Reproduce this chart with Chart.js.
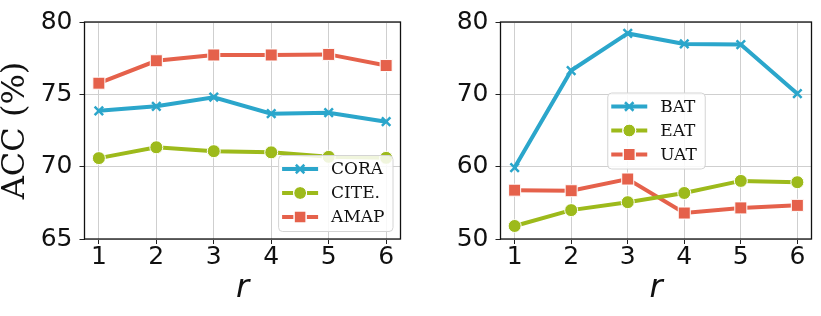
<!DOCTYPE html>
<html>
<head>
<meta charset="utf-8">
<script src="https://cdn.jsdelivr.net/npm/chart.js@4.4.1/dist/chart.umd.min.js"></script>
<style>
  html, body { margin: 0; padding: 0; background: #fff; }
  #wrap { position: relative; width: 821px; height: 316px; }
  .panel { position: absolute; top: 0; height: 316px; }
</style>
</head>
<body>
<div id="wrap">
  <div class="panel" style="left:0;width:410px"><canvas id="left"></canvas></div>
  <div class="panel" style="left:410px;width:411px"><canvas id="right"></canvas></div>
</div>
<script>
// r values on the x axis
const rValues = [1, 2, 3, 4, 5, 6];

// left panel
const cora = [73.86, 74.17, 74.8, 73.66, 73.73, 73.11];
const cite = [70.59, 71.34, 71.07, 70.99, 70.68, 70.61];
const amap = [75.77, 77.32, 77.72, 77.72, 77.76, 76.99];
const leftTicks = [65, 70, 75, 80];

// right panel
const bat = [59.87, 73.29, 78.42, 76.97, 76.88, 70.09];
const eat = [51.8, 53.99, 55.09, 56.36, 58.03, 57.85];
const uat = [56.75, 56.67, 58.29, 53.59, 54.3, 54.65];
const rightTicks = [50, 60, 70, 80];

const BLUE = "#2ba6cb";
const GREEN = "#9dba1b";
const RED = "#e5614b";

const serif = "'DejaVu Serif', serif";
const sans = "'DejaVu Sans', sans-serif";

const toPoints = (vals) => vals.map((v, i) => ({ x: rValues[i], y: v }));

// marker style per series kind
const markerStyle = {
  cross: { pointStyle: "crossRot", pointRadius: 6, pointBorderWidth: 2.5 },
  circle: { pointStyle: "circle", pointRadius: 6.5, pointBorderWidth: 1 },
  square: { pointStyle: "rect", pointRadius: 8.5, pointBorderWidth: 1 },
};

function makeDataset(label, vals, color, kind) {
  const m = markerStyle[kind];
  return {
    label,
    data: toPoints(vals),
    borderColor: color,
    backgroundColor: color,
    borderWidth: 4,
    pointStyle: m.pointStyle,
    pointRadius: m.pointRadius,
    pointHoverRadius: m.pointRadius,
    pointBorderWidth: m.pointBorderWidth,
    pointBackgroundColor: color,
    pointBorderColor: kind === "cross" ? color : "#fff",
    tension: 0,
    kind,
  };
}

// frame around the plot area + in-plot legend like matplotlib
const framePlugin = {
  id: "frame",
  afterDraw(chart, args, opts) {
    const { ctx, chartArea: a } = chart;
    ctx.save();
    ctx.strokeStyle = "#111";
    ctx.lineWidth = 1.3;
    ctx.strokeRect(a.left, a.top, a.right - a.left, a.bottom - a.top);
    ctx.restore();

    // legend
    const sets = chart.data.datasets;
    const fontSize = 17;
    ctx.save();
    ctx.font = `${fontSize}px ${serif}`;
    const textW = Math.max(...sets.map((d) => ctx.measureText(d.label).width));
    const rowH = 24;
    const boxW = 53 + textW + 8;
    const boxH = 28 + rowH * (sets.length - 1);
    let bx, by;
    if (opts.where === "lower right") {
      bx = a.right - 8 - boxW;
      by = a.bottom - 8 - boxH;
    } else {
      bx = (a.left + a.right) / 2 - boxW / 2;
      by = (a.top + a.bottom) / 2 - boxH / 2;
    }
    ctx.fillStyle = "rgba(255,255,255,0.85)";
    ctx.strokeStyle = "#d4d4d4";
    ctx.lineWidth = 1;
    ctx.beginPath();
    ctx.roundRect(bx + 0.5, by + 0.5, boxW, boxH, 4);
    ctx.fill();
    ctx.stroke();

    sets.forEach((d, i) => {
      const cy = by + 14 + i * rowH;
      ctx.strokeStyle = d.borderColor;
      ctx.lineWidth = 4;
      ctx.beginPath();
      ctx.moveTo(bx + 4, cy);
      ctx.lineTo(bx + 40, cy);
      ctx.stroke();
      ctx.fillStyle = d.pointBackgroundColor;
      ctx.strokeStyle = d.pointBorderColor;
      ctx.lineWidth = d.pointBorderWidth;
      Chart.helpers.drawPoint(ctx, { pointStyle: d.pointStyle, radius: d.pointRadius, borderWidth: d.pointBorderWidth }, bx + 22, cy);
      if (d.kind !== "cross") ctx.stroke();
      ctx.fillStyle = "#111";
      ctx.textBaseline = "middle";
      ctx.textAlign = "left";
      ctx.fillText(d.label, bx + 53, cy + 1);
    });
    ctx.restore();
  },
};

function makeChart(id, datasets, yMin, yMax, yTicks, opts) {
  return new Chart(document.getElementById(id), {
    type: "line",
    data: { datasets },
    options: {
      responsive: true,
      maintainAspectRatio: false,
      animation: false,
      layout: { padding: { top: 11, right: opts.padRight, left: 0, bottom: 0 } },
      plugins: {
        legend: { display: false },
        tooltip: { enabled: false },
        frame: { where: opts.legendAt },
      },
      scales: {
        x: {
          type: "linear",
          min: 0.75,
          max: 6.25,
          afterBuildTicks: (s) => { s.ticks = rValues.map((v) => ({ value: v })); },
          afterFit: (s) => { s.height = 77; },
          grid: { color: "#cfcfcf", lineWidth: 1, tickColor: "#222", tickLength: 5 },
          border: { display: false },
          ticks: { color: "#111", font: { family: sans, size: 25, lineHeight: 1 }, padding: 1, maxRotation: 0 },
          title: {
            display: true,
            text: "r",
            color: "#111",
            font: { family: sans, size: 32, style: "italic", lineHeight: 1 },
            padding: { top: 0, bottom: 11 },
          },
        },
        y: {
          min: yMin,
          max: yMax,
          afterBuildTicks: (s) => { s.ticks = yTicks.map((v) => ({ value: v })); },
          afterFit: (s) => { s.width = opts.yWidth; },
          grid: { color: "#cfcfcf", lineWidth: 1, tickColor: "#222", tickLength: 5 },
          border: { display: false },
          ticks: { color: "#111", font: { family: sans, size: 25 }, padding: 7 },
          title: {
            display: opts.yTitle !== "",
            text: opts.yTitle,
            color: "#111",
            font: { family: serif, size: 32, lineHeight: 1 },
            padding: { top: 0, bottom: 0 },
          },
        },
      },
    },
    plugins: [framePlugin],
  });
}

makeChart("left", [
  makeDataset("CORA", cora, BLUE, "cross"),
  makeDataset("CITE.", cite, GREEN, "circle"),
  makeDataset("AMAP", amap, RED, "square"),
], 65, 80, leftTicks, { yWidth: 84.5, padRight: 5.5, yTitle: "ACC (%)", legendAt: "lower right" });

makeChart("right", [
  makeDataset("BAT", bat, BLUE, "cross"),
  makeDataset("EAT", eat, GREEN, "circle"),
  makeDataset("UAT", uat, RED, "square"),
], 50, 80, rightTicks, { yWidth: 90.5, padRight: 1.5, yTitle: "", legendAt: "center" });
</script>
</body>
</html>
